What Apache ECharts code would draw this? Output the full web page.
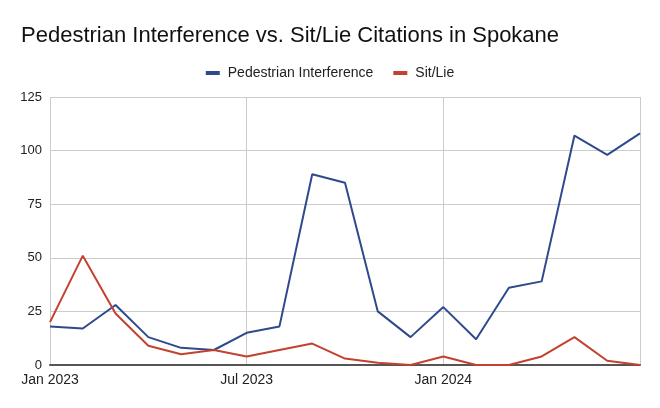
<!DOCTYPE html>
<html>
<head>
<meta charset="utf-8">
<script src="https://cdn.jsdelivr.net/npm/echarts@6/dist/echarts.min.js"></script>
<style>html,body{margin:0;padding:0;background:#fff;}#c{width:660px;height:408px;}</style>
</head>
<body>
<div id="c"></div>
<script>
var months = ["Jan 2023","Feb 2023","Mar 2023","Apr 2023","May 2023","Jun 2023","Jul 2023","Aug 2023","Sep 2023","Oct 2023","Nov 2023","Dec 2023","Jan 2024","Feb 2024","Mar 2024","Apr 2024","May 2024","Jun 2024","Jul 2024"];
var pedestrian = [18,17,28,13,8,7,15,18,89,85,25,13,27,12,36,39,107,98,108];
var sitLie = [20,51,24,9,5,7,4,7,10,3,1,0,4,0,0,4,13,2,0];
var yTicks = [0,25,50,75,100,125];

var FONT = '"Liberation Sans", Arial, sans-serif';
var chart = echarts.init(document.getElementById('c'));
chart.setOption({
  animation:false,
  backgroundColor:'#fff',
  title:{text:'Pedestrian Interference vs. Sit/Lie Citations in Spokane',left:21,top:25,padding:0,
    textStyle:{fontFamily:FONT,fontSize:22,fontWeight:'normal',color:'#111'}},
  legend:{top:61,left:'center',itemWidth:14,itemHeight:4,itemGap:20,icon:'rect',
    textStyle:{fontFamily:FONT,fontSize:14,color:'#222',padding:[0,0,0,3]},
    data:['Pedestrian Interference','Sit/Lie']},
  grid:{left:50,right:20,top:97,bottom:43,containLabel:false},
  xAxis:{type:'category',data:months,boundaryGap:false,
    axisLine:{show:true,lineStyle:{color:'#555',width:2}},
    axisTick:{show:false},
    axisLabel:{interval:function(i){return i%6===0 && i<18;},color:'#222',fontSize:14,margin:8,
      fontFamily:FONT},
    splitLine:{show:true,interval:function(i){return i%6===0;},lineStyle:{color:'#ccc',width:1}}},
  yAxis:{type:'value',min:yTicks[0],max:yTicks[yTicks.length-1],interval:25,
    axisLine:{show:false},axisTick:{show:false},
    axisLabel:{color:'#222',fontSize:13,margin:8,fontFamily:FONT},
    splitLine:{lineStyle:{color:'#ccc',width:1}}},
  series:[
    {name:'Pedestrian Interference',type:'line',data:pedestrian,symbol:'none',
      lineStyle:{color:'#2e4a8c',width:2},itemStyle:{color:'#2e4a8c'}},
    {name:'Sit/Lie',type:'line',data:sitLie,symbol:'none',
      lineStyle:{color:'#c4412f',width:2},itemStyle:{color:'#c4412f'}}
  ]
});
</script>
</body>
</html>
